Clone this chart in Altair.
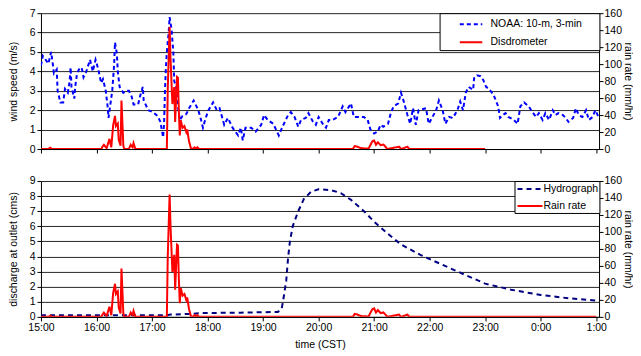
import altair as alt
import pandas as pd

FONT = "Liberation Sans"

# time in minutes after 15:00 CST
wind_t = [0, 2, 8, 11, 13, 14, 17, 18, 21, 24, 26, 29, 31, 32, 33, 36, 37, 39, 41, 44,
          46, 49, 53, 56, 59, 62, 65, 67, 70, 72, 73, 77, 79, 80, 82, 83, 85, 89, 92, 95,
          98, 100, 105, 107, 110, 111, 116, 121, 126, 129, 132, 133, 134, 135, 136, 138, 139, 141, 143, 144,
          146, 148, 150, 153, 157, 160, 165, 170, 173, 175, 178, 181, 186, 190, 193, 198, 202, 207, 213, 216,
          218, 221, 227, 232, 238, 241, 245, 251, 254, 257, 261, 267, 270, 274, 278, 281, 286, 289, 294, 297,
          300, 305, 308, 311, 315, 321, 326, 329, 335, 338, 343, 349, 353, 356, 360, 364, 367, 370, 375, 378,
          381, 386, 389, 392, 396, 399, 402, 405, 408, 416, 419, 423, 427, 430, 434, 437, 441, 445, 450, 453,
          456, 459, 462, 467, 468, 471, 475, 478, 481, 484, 489, 494, 496, 499, 502, 505, 511, 515, 518, 522,
          527, 531, 535, 538, 542, 545, 549, 553, 556, 559, 564, 567, 570, 575, 578, 581, 585, 589, 592, 596,
          599, 603, 608]
wind_v = [4.3, 4.8, 4.4, 5.0, 4.3, 3.9, 4.1, 3.0, 2.4, 2.4, 3.1, 2.9, 3.5, 4.2, 3.2, 2.6, 3.2, 3.9, 4.1, 4.2,
          3.7, 4.0, 4.6, 4.0, 4.6, 4.1, 3.4, 3.6, 3.0, 2.2, 1.6, 3.0, 4.3, 5.5, 4.9, 4.0, 3.2, 2.9, 3.0, 3.0,
          2.7, 2.3, 2.3, 2.7, 3.2, 2.5, 2.0, 1.9, 1.7, 1.4, 0.6, 1.3, 3.0, 4.2, 5.0, 6.0, 6.8, 6.2, 5.0, 3.5,
          3.2, 2.2, 1.5, 1.7, 1.8, 2.1, 2.5, 2.0, 1.5, 1.1, 1.6, 2.0, 2.4, 2.0, 2.1, 1.25, 1.6, 1.1, 0.7, 1.1,
          0.45, 1.1, 1.1, 0.9, 1.25, 1.75, 1.5, 1.3, 1.0, 0.7, 1.15, 1.75, 1.9, 1.65, 1.15, 1.5, 1.6, 1.85, 1.4, 1.25,
          1.65, 1.25, 1.1, 1.5, 1.5, 1.65, 2.2, 1.9, 2.35, 1.65, 1.65, 1.65, 1.5, 1.0, 0.8, 0.9, 1.25, 1.15, 1.3, 1.85,
          2.2, 2.35, 2.9, 2.45, 1.75, 1.3, 2.1, 1.25, 2.0, 2.1, 1.3, 1.65, 2.0, 2.5, 2.0, 1.3, 1.65, 1.6, 2.0, 2.45,
          2.0, 2.9, 3.2, 3.05, 3.65, 3.8, 3.75, 3.55, 3.2, 3.1, 2.8, 2.2, 1.6, 1.75, 1.85, 1.65, 1.5, 1.3, 2.2, 2.4,
          2.2, 1.9, 1.65, 1.85, 1.5, 1.85, 1.5, 2.0, 1.75, 1.85, 1.75, 1.6, 1.4, 1.6, 2.1, 1.75, 1.65, 2.0, 1.5, 1.65,
          2.0, 1.6, 1.75]

rain_t = [0, 8, 10, 12, 65, 67, 68, 71, 74, 76, 78, 80, 81, 83, 84, 86, 87, 89, 90,
          95, 97, 99, 100, 102,
          136, 137, 139, 140, 142, 144, 145, 147, 148, 149, 150, 151, 153, 155, 157, 158, 160, 162, 164, 166, 168, 169, 171, 173,
          337, 339, 342, 346, 354, 358, 360, 362, 364, 367, 370, 373, 374,
          387, 389, 396, 398, 480, 600]
rain_v = [0, 0, 1.5, 0, 0, 3.5, 5, 1, 12, 2, 28, 39, 27, 30, 11, 4, 57, 4, 0,
          0, 5, 2, 7, 0,
          0, 71, 144, 107, 53, 73, 32, 85, 84, 44, 16, 34, 25, 27, 20, 23, 9, 1, 0, 2, 0, 2, 0, 0,
          0, 3.5, 2.7, 0.9, 0.5, 9, 10, 5, 8, 4.5, 5.3, 1.8, 0,
          2.7, 0, 2.7, 0, 0, 0]

hydro_t = [0, 135, 140, 162, 173, 216, 256, 260, 262, 265, 267, 269, 272, 278, 284, 292, 300, 313, 324, 335,
           349, 360, 375, 389, 410, 432, 454, 480, 508, 540, 572, 600, 610]
hydro_q = [0.1, 0.1, 0.15, 0.2, 0.25, 0.28, 0.33, 0.5, 1.2, 2.4, 3.9, 5.0, 6.0, 7.0, 7.8, 8.3, 8.45, 8.4, 8.2, 7.75,
           7.0, 6.3, 5.5, 4.8, 4.1, 3.5, 2.9, 2.2, 1.8, 1.45, 1.22, 1.08, 1.05]

hour_ticks = list(range(0, 601, 60))
top_names = ["NOAA: 10-m, 3-min", "Disdrometer"]
bot_names = ["Hydrograph", "Rain rate"]

wind_df = pd.DataFrame({"t": wind_t, "v": wind_v, "series": top_names[0]})
rain_all = pd.DataFrame({"t": rain_t, "r": rain_v})
disd_df = rain_all[rain_all["t"] <= 480].assign(series=top_names[1])
rain_df = rain_all.assign(series=bot_names[1])
hydro_df = pd.DataFrame({"t": hydro_t, "q": hydro_q, "series": bot_names[0]})

T_END = 603
W, H = round(T_END / 60 * 55.58, 1), 136
xscale = alt.Scale(domain=[0, T_END], nice=False, zero=False)
label_expr = "((15 + datum.value / 60) % 24) + ':00'"

def x_enc(show_labels):
    if show_labels:
        ax = alt.Axis(values=hour_ticks, labelExpr=label_expr, grid=False, title="time (CST)",
                      titlePadding=6, labelPadding=2, labelFlush=False)
        return alt.X("t:Q", scale=xscale, axis=ax)
    ax = alt.Axis(values=hour_ticks, labels=False, grid=False)
    return alt.X("t:Q", scale=xscale, axis=ax, title=None)

def legend(sym_path, size, sym_off, lab_off, pad, lab_expr):
    return alt.Legend(title=None, orient="top-right", offset=0, strokeColor="black",
                      fillColor="white", padding=pad, symbolType=sym_path, symbolSize=size,
                      symbolStrokeWidth=2, symbolOffset=sym_off, labelOffset=lab_off,
                      labelFont=FONT, labelFontSize=10.5, labelColor="black",
                      rowPadding=4, labelExpr=lab_expr)

PAD_TAIL = "\u00a0" * 5 + "\u200b"
top_leg = legend("M-1.5,0H1.5", 225, 20.5, 11, 2.5, "datum.label + '" + PAD_TAIL + "'")
bot_leg = legend("M-2.08,0H2.08", 144, 7.5, 6.5, 1, "datum.label")

top_color = alt.Color("series:N", scale=alt.Scale(domain=top_names, range=["#0000ff", "#ff0000"]), legend=top_leg)
top_dash = alt.StrokeDash("series:N", scale=alt.Scale(domain=top_names, range=[[4, 3], [1, 0]]), legend=top_leg)
bot_color = alt.Color("series:N", scale=alt.Scale(domain=bot_names, range=["#000080", "#ff0000"]), legend=bot_leg)
bot_dash = alt.StrokeDash("series:N", scale=alt.Scale(domain=bot_names, range=[[5, 4], [1, 0]]), legend=bot_leg)

rain_axis = alt.Axis(orient="right", values=list(range(0, 161, 20)), grid=False,
                     title="rain rate (mm/hr)", titleAngle=90, titlePadding=1, labelPadding=1)

wind = alt.Chart(wind_df).mark_line(strokeWidth=2, clip=True).encode(
    x=x_enc(False),
    y=alt.Y("v:Q", scale=alt.Scale(domain=[0, 7], nice=False),
            axis=alt.Axis(values=list(range(0, 8)), grid=True, title="wind speed (m/s)", titlePadding=11)),
    color=top_color, strokeDash=top_dash)
disd = alt.Chart(disd_df).mark_line(strokeWidth=2, clip=True).encode(
    x=x_enc(False),
    y=alt.Y("r:Q", scale=alt.Scale(domain=[0, 160], nice=False), axis=rain_axis),
    color=top_color, strokeDash=top_dash)
top = alt.layer(wind, disd).resolve_scale(y="independent").properties(width=W, height=H)

hydro = alt.Chart(hydro_df).mark_line(strokeWidth=2, clip=True).encode(
    x=x_enc(True),
    y=alt.Y("q:Q", scale=alt.Scale(domain=[0, 9], nice=False),
            axis=alt.Axis(values=list(range(0, 10)), grid=True, title="discharge at outlet (cms)", titlePadding=11)),
    color=bot_color, strokeDash=bot_dash)
rain = alt.Chart(rain_df).mark_line(strokeWidth=2, clip=True).encode(
    x=x_enc(True),
    y=alt.Y("r:Q", scale=alt.Scale(domain=[0, 160], nice=False), axis=rain_axis),
    color=bot_color, strokeDash=bot_dash)
bottom = alt.layer(hydro, rain).resolve_scale(y="independent").properties(width=W, height=H)

chart = alt.vconcat(top, bottom, spacing=21).resolve_scale(
    color="independent", strokeDash="independent", y="independent"
).properties(
    padding={"left": 0, "top": 0, "right": 0, "bottom": 0}
).configure_view(strokeWidth=0).configure_axis(
    labelFont=FONT, titleFont=FONT, labelFontSize=10.5, titleFontSize=10.5,
    labelColor="black", titleColor="black", titleFontWeight="normal",
    domainColor="black", tickColor="black", tickSize=4, labelPadding=2,
    gridColor="black", gridOpacity=0.85, domainWidth=1
)

chart.save("out.html", embed_options={"renderer": "svg", "actions": False})
